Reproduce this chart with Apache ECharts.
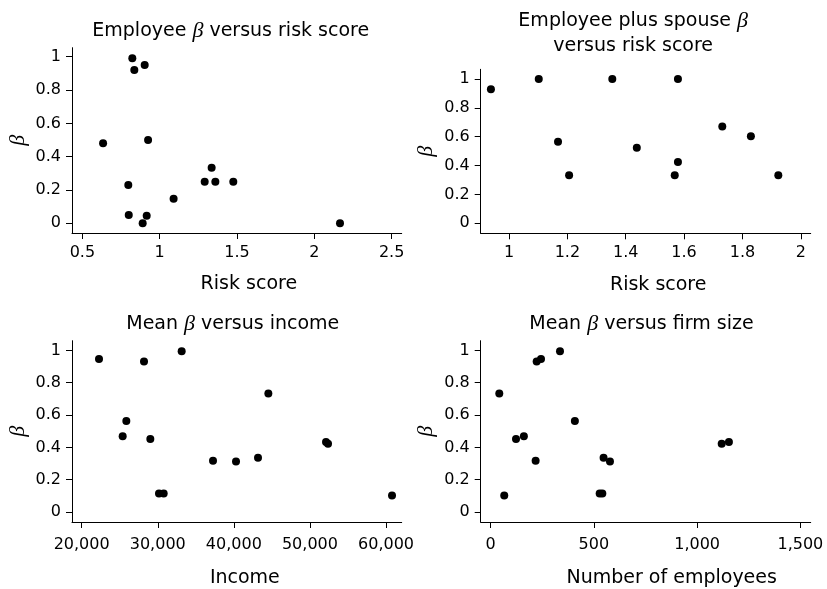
<!DOCTYPE html>
<html>
<head>
<meta charset="utf-8">
<script src="https://cdn.jsdelivr.net/npm/echarts@6/dist/echarts.min.js"></script>
<style>html,body{margin:0;padding:0;background:#fff}#c{width:827px;height:589px}</style>
</head>
<body>
<div id="c"></div>
<script>
// Panel 1: Employee beta vs risk score
const p1Risk = [0.823, 0.903, 0.836, 0.634, 0.925, 0.797, 0.80, 0.916, 0.89, 1.09, 1.291, 1.336, 1.36, 1.476, 2.166];
const p1Beta = [0.99, 0.95, 0.92, 0.48, 0.50, 0.23, 0.05, 0.046, 0, 0.148, 0.25, 0.334, 0.25, 0.25, 0];
// Panel 2: Employee plus spouse beta vs risk score
const p2Risk = [0.938, 1.102, 1.354, 1.579, 1.168, 1.206, 1.438, 1.579, 1.568, 1.731, 1.829, 1.923];
const p2Beta = [0.928, 1, 1, 1, 0.566, 0.333, 0.524, 0.425, 0.333, 0.67, 0.603, 0.333];
// Panels 3 & 4: mean beta vs income / firm size
const income = [22278, 28193, 33143, 25871, 25389, 29025, 30164, 30778, 37262, 40285, 43176, 44534, 52114, 52377, 60788];
const employees = [244, 223, 336, 408, 161, 123, 528, 541, 218, 578, 547, 42, 1154, 1119, 66];
const meanBeta = [0.946, 0.932, 0.994, 0.563, 0.469, 0.451, 0.114, 0.114, 0.317, 0.313, 0.335, 0.733, 0.433, 0.423, 0.102];
// Tick values
const betaTicks = [0, 0.2, 0.4, 0.6, 0.8, 1];
const p1XTicks = [0.5, 1, 1.5, 2, 2.5];
const p2XTicks = [1, 1.2, 1.4, 1.6, 1.8, 2];
const incomeTicks = [20000, 30000, 40000, 50000, 60000];
const employeeTicks = [0, 500, 1000, 1500];
// Titles
const titles = [
  ['Employee ', 'β', ' versus risk score'],
  ['Employee plus spouse ', 'β', '\nversus risk score'],
  ['Mean ', 'β', ' versus income'],
  ['Mean ', 'β', ' versus firm size']
];
const xNames = ['Risk score', 'Risk score', 'Income', 'Number of employees'];

const SANS = 'DejaVu Sans';
const SERIF = 'Liberation Serif';
const zip = (a, b) => a.map((v, i) => [v, b[i]]);
const fmtNum = v => String(+(+v).toFixed(2));
const fmtComma = v => Math.round(v).toLocaleString('en-US');

const grids = [
  {left: 72, top: 47.7, width: 329.7, height: 185.3},
  {left: 480.7, top: 69.3, width: 330, height: 164},
  {left: 72, top: 340.7, width: 329.7, height: 186.6},
  {left: 480.7, top: 340.7, width: 330, height: 186.6}
];
const xCfg = [
  {min: 0.433, max: 2.565, ticks: p1XTicks, fmt: fmtNum, gap: 42, shift: 24, margin: 12},
  {min: 0.903, max: 2.034, ticks: p2XTicks, fmt: fmtNum, gap: 42, shift: 25, margin: 12},
  {min: 18730, max: 62060, ticks: incomeTicks, fmt: fmtComma, gap: 47, shift: 16, margin: 15},
  {min: -48, max: 1550, ticks: employeeTicks, fmt: fmtComma, gap: 47, shift: 52, margin: 15}
];
const yCfg = [
  {min: -0.058, max: 1.054},
  {min: -0.069, max: 1.067},
  {min: -0.062, max: 1.06},
  {min: -0.062, max: 1.06}
];
const titlePos = [
  {left: 230.7, top: 31},
  {left: 633.2, top: 33.3},
  {left: 232.8, top: 324.3},
  {left: 641.5, top: 324.3}
];
const seriesData = [zip(p1Risk, p1Beta), zip(p2Risk, p2Beta), zip(income, meanBeta), zip(employees, meanBeta)];

const axisLineStyle = {show: true, onZero: false, lineStyle: {color: '#000', width: 1}};
const tickStyle = {show: true, inside: false, length: 6, lineStyle: {color: '#000', width: 1}};

const option = {
  backgroundColor: '#fff',
  animation: false,
  title: titles.map((t, i) => ({
    text: '{a|' + t[0] + '}{b|' + t[1] + '}' + (t[2].startsWith('\n') ? '\n{a|' + t[2].slice(1) + '}' : '{a|' + t[2] + '}'),
    left: titlePos[i].left,
    top: titlePos[i].top,
    padding: 0,
    textAlign: 'center',
    textVerticalAlign: 'middle',
    textStyle: {
      fontWeight: 'normal',
      lineHeight: 25,
      rich: {
        a: {fontFamily: SANS, fontSize: 19, fontWeight: 'normal', color: '#000', lineHeight: 25},
        b: {fontFamily: SERIF, fontStyle: 'italic', fontWeight: 'normal', fontSize: 22, color: '#000', lineHeight: 25}
      }
    }
  })),
  grid: grids,
  xAxis: xCfg.map((c, i) => ({
    type: 'value',
    gridIndex: i,
    min: c.min,
    max: c.max,
    name: xNames[i],
    nameLocation: 'middle',
    nameGap: c.gap,
    nameTextStyle: {fontFamily: SANS, fontSize: 19, color: '#000', padding: [0, 0, 0, c.shift]},
    axisLine: axisLineStyle,
    axisTick: Object.assign({customValues: c.ticks}, tickStyle),
    axisLabel: {customValues: c.ticks, formatter: c.fmt, fontFamily: SANS, fontSize: 16, color: '#000', margin: c.margin},
    splitLine: {show: false}
  })),
  yAxis: yCfg.map((c, i) => ({
    type: 'value',
    gridIndex: i,
    min: c.min,
    max: c.max,
    name: 'β',
    nameLocation: 'middle',
    nameGap: 43,
    nameTextStyle: {fontFamily: SERIF, fontStyle: 'italic', fontSize: 22, color: '#000'},
    axisLine: axisLineStyle,
    axisTick: Object.assign({customValues: betaTicks}, tickStyle),
    axisLabel: {customValues: betaTicks, formatter: fmtNum, fontFamily: SANS, fontSize: 16, color: '#000', margin: 11},
    splitLine: {show: false}
  })),
  series: seriesData.map((d, i) => ({
    type: 'scatter',
    xAxisIndex: i,
    yAxisIndex: i,
    data: d,
    symbol: 'circle',
    symbolSize: 8,
    itemStyle: {color: '#000', opacity: 1},
    emphasis: {disabled: true}
  }))
};
echarts.init(document.getElementById('c')).setOption(option);
</script>
</body>
</html>
